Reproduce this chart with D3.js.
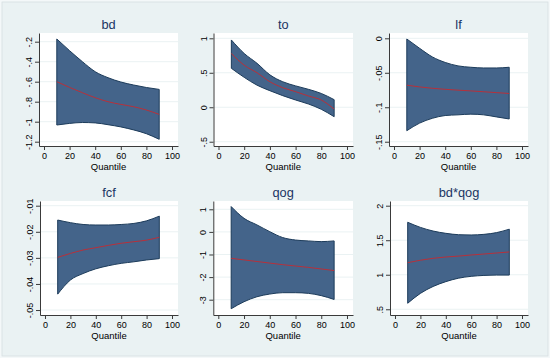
<!DOCTYPE html>
<html><head><meta charset="utf-8">
<script src="https://cdn.jsdelivr.net/npm/d3@7"></script>
<style>body{margin:0;background:#fff}svg{display:block}</style>
</head><body><svg id="c" width="550" height="358"></svg>
<script>
// ---------- data ----------
const quantiles = [10, 20, 30, 40, 50, 60, 70, 80, 90];
const titles = ["bd", "to", "lf", "fcf", "qog", "bd*qog"];

const bdCoef  = [-0.600, -0.657, -0.710, -0.760, -0.800, -0.827, -0.850, -0.883, -0.927];
const bdLower = [-1.033, -1.017, -1.008, -1.012, -1.030, -1.052, -1.082, -1.120, -1.176];
const bdUpper = [-0.173, -0.290, -0.400, -0.500, -0.560, -0.603, -0.633, -0.658, -0.677];

const toCoef  = [0.780, 0.610, 0.500, 0.370, 0.284, 0.226, 0.163, 0.105, -0.026];
const toLower = [0.565, 0.434, 0.320, 0.240, 0.168, 0.105, 0.047, -0.030, -0.137];
const toUpper = [0.976, 0.780, 0.637, 0.470, 0.370, 0.310, 0.260, 0.200, 0.110];

const lfCoef  = [-0.0680, -0.0705, -0.0725, -0.0740, -0.0752, -0.0763, -0.0775, -0.0788, -0.0800];
const lfLower = [-0.134, -0.123, -0.116, -0.112, -0.111, -0.110, -0.111, -0.114, -0.117];
const lfUpper = [-0.001, -0.0145, -0.027, -0.035, -0.040, -0.042, -0.043, -0.043, -0.042];

const fcfCoef  = [-0.0298, -0.0283, -0.0270, -0.0261, -0.0252, -0.0244, -0.0238, -0.0232, -0.0221];
const fcfLower = [-0.0439, -0.0385, -0.0360, -0.0342, -0.0330, -0.0321, -0.0315, -0.0308, -0.0303];
const fcfUpper = [-0.0155, -0.0165, -0.0172, -0.0174, -0.0174, -0.0172, -0.0168, -0.0158, -0.0140];

const qogCoef  = [-1.17, -1.24, -1.31, -1.38, -1.45, -1.51, -1.57, -1.64, -1.71];
const qogLower = [-3.40, -3.09, -2.87, -2.75, -2.69, -2.69, -2.72, -2.82, -2.99];
const qogUpper = [1.12, 0.60, 0.31, 0.01, -0.25, -0.36, -0.40, -0.43, -0.40];

const bdqogCoef  = [1.175, 1.210, 1.238, 1.257, 1.270, 1.286, 1.300, 1.315, 1.330];
const bdqogLower = [0.587, 0.730, 0.830, 0.900, 0.950, 0.977, 0.990, 0.995, 0.995];
const bdqogUpper = [1.760, 1.686, 1.633, 1.600, 1.580, 1.576, 1.585, 1.610, 1.660];

const xTicks = [0, 20, 40, 60, 80, 100];
const xTickLabels = ["0", "20", "40", "60", "80", "100"];
const xLabel = "Quantile";

const bdTicks = [-1.2, -1, -0.8, -0.6, -0.4, -0.2];
const bdTickLabels = ["-1.2", "-1", "-.8", "-.6", "-.4", "-.2"];
const toTicks = [-0.5, 0, 0.5, 1];
const toTickLabels = ["-.5", "0", ".5", "1"];
const lfTicks = [-0.15, -0.1, -0.05, 0];
const lfTickLabels = ["-.15", "-.1", "-.05", "0"];
const fcfTicks = [-0.05, -0.04, -0.03, -0.02, -0.01];
const fcfTickLabels = ["-.05", "-.04", "-.03", "-.02", "-.01"];
const qogTicks = [-3, -2, -1, 0, 1];
const qogTickLabels = ["-3", "-2", "-1", "0", "1"];
const bdqogTicks = [0.5, 1, 1.5, 2];
const bdqogTickLabels = [".5", "1", "1.5", "2"];

const coefs  = [bdCoef, toCoef, lfCoef, fcfCoef, qogCoef, bdqogCoef];
const lowers = [bdLower, toLower, lfLower, fcfLower, qogLower, bdqogLower];
const uppers = [bdUpper, toUpper, lfUpper, fcfUpper, qogUpper, bdqogUpper];
const yTicksAll = [bdTicks, toTicks, lfTicks, fcfTicks, qogTicks, bdqogTicks];
const yLabelsAll = [bdTickLabels, toTickLabels, lfTickLabels, fcfTickLabels, qogTickLabels, bdqogTickLabels];

// ---------- layout (pixels / axis extents) ----------
const frames = [
  {l: 39,  r: 178, t: 33,  b: 146, yd: [-1.243, -0.113]},
  {l: 213.5, r: 353, t: 33, b: 146, yd: [-0.562, 1.077]},
  {l: 389, r: 528, t: 33,  b: 146, yd: [-0.1562, 0.0077]},
  {l: 40,  r: 178, t: 201, b: 315, yd: [-0.0519, -0.0082]},
  {l: 213.3, r: 353, t: 201, b: 315, yd: [-3.677, 1.367]},
  {l: 390, r: 528, t: 201, b: 315, yd: [0.417, 2.068]}
];

const FONT = "'Liberation Sans', Arial, sans-serif";
const svg = d3.select("#c");

svg.append("rect").attr("x", 0).attr("y", 0).attr("width", 550).attr("height", 358).attr("fill", "#f4f8f9");
svg.append("rect").attr("x", 2).attr("y", 2).attr("width", 546).attr("height", 354)
   .attr("fill", "#eaf2f3").attr("stroke", "#d6dfe2").attr("stroke-width", 0.8);

frames.forEach((f, i) => {
  const g = svg.append("g");
  const w = f.r - f.l;
  const pxPerUnit = 1.28 * (w / 139);
  const x = d3.scaleLinear().domain([-5 / pxPerUnit, 100 + 6 / pxPerUnit]).range([f.l, f.r]);
  const y = d3.scaleLinear().domain(f.yd).range([f.b, f.t]);

  g.append("rect").attr("x", f.l).attr("y", f.t).attr("width", w).attr("height", f.b - f.t).attr("fill", "#ffffff");

  // gridlines
  g.selectAll("line.grid").data(yTicksAll[i]).enter().append("line")
    .attr("x1", f.l).attr("x2", f.r)
    .attr("y1", d => y(d)).attr("y2", d => y(d))
    .attr("stroke", "#eaf2f3").attr("stroke-width", 1);

  const rows = quantiles.map((q, k) => ({q, c: coefs[i][k], lo: lowers[i][k], hi: uppers[i][k]}));

  const area = d3.area().x(d => x(d.q)).y0(d => y(d.lo)).y1(d => y(d.hi)).curve(d3.curveMonotoneX);
  g.append("path").attr("d", area(rows)).attr("fill", "#44648a")
    .attr("stroke", "#1c3b5a").attr("stroke-width", 1).attr("stroke-linejoin", "round");

  const line = d3.line().x(d => x(d.q)).y(d => y(d.c)).curve(d3.curveMonotoneX);
  g.append("path").attr("d", line(rows)).attr("fill", "none")
    .attr("stroke", "#b8303a").attr("stroke-width", 1);

  // y axis
  const ya = g.append("g").attr("transform", `translate(${f.l},0)`)
    .call(d3.axisLeft(y).tickValues(yTicksAll[i]).tickFormat((d, k) => yLabelsAll[i][k]).tickSize(4).tickSizeOuter(0));
  ya.select(".domain").attr("stroke", "#3a3a3a");
  ya.selectAll(".tick line").attr("stroke", "#3a3a3a");
  ya.selectAll(".tick text").attr("transform", "rotate(-90)").attr("x", 0).attr("y", -7).attr("dy", null)
    .attr("text-anchor", "middle").attr("fill", "#000").style("font-family", FONT).style("font-size", "9px");

  // x axis
  const xa = g.append("g").attr("transform", `translate(0,${f.b})`)
    .call(d3.axisBottom(x).tickValues(xTicks).tickFormat((d, k) => xTickLabels[k]).tickSize(4).tickSizeOuter(0));
  xa.select(".domain").attr("stroke", "#3a3a3a");
  xa.selectAll(".tick line").attr("stroke", "#3a3a3a");
  xa.selectAll(".tick text").attr("y", 12.5).attr("dy", null).attr("fill", "#000")
    .style("font-family", FONT).style("font-size", "9px");

  g.append("text").attr("x", (f.l + f.r) / 2).attr("y", f.b + 23.5).attr("text-anchor", "middle")
    .attr("fill", "#000").style("font-family", FONT).style("font-size", "9.5px").text(xLabel);

  g.append("text").attr("x", (f.l + f.r) / 2).attr("y", f.t - 4.5).attr("text-anchor", "middle")
    .attr("fill", "#1a3563").style("font-family", FONT).style("font-size", "12.8px").text(titles[i]);
});
</script></body></html>
